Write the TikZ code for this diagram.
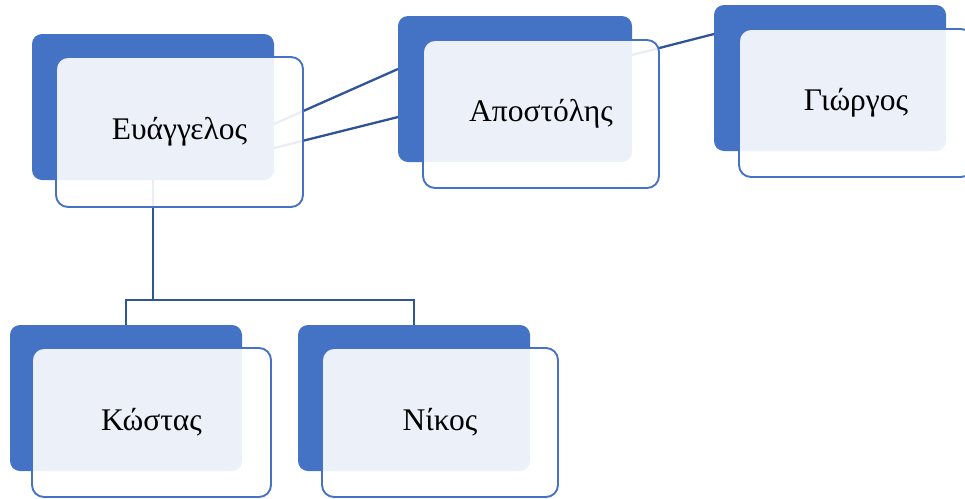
\documentclass[tikz,border=0pt]{standalone}
\usepackage{fontspec}
\setmainfont{Liberation Serif}
\usetikzlibrary{calc}
\definecolor{bblue}{HTML}{4472C4}
\definecolor{lblue}{HTML}{2F5597}
\tikzset{
  back/.style={fill=bblue, draw=none, rounded corners=10pt, inner sep=0pt, outer sep=0pt},
  front/.style={fill=white, fill opacity=0.9, draw=bblue, draw opacity=1, line width=1.9pt, rounded corners=12pt, inner sep=0pt, outer sep=0pt},
  label/.style={font=\fontsize{31.5}{36}\selectfont, text=black},
  link/.style={draw=lblue, line width=2.3pt}
}
\begin{document}
\begin{tikzpicture}[x=1pt,y=-1pt]
\useasboundingbox (0,0) rectangle (965,498);
\clip (0,0) rectangle (965,498);
% back rectangles
\node[back, minimum width=242pt, minimum height=146pt] (E) at (153,107) {};
\node[back, minimum width=234pt, minimum height=146pt] (A) at (515,89) {};
\node[back, minimum width=232pt, minimum height=146pt] (G) at (830,78) {};
\node[back, minimum width=232pt, minimum height=146pt] (K) at (126,398) {};
\node[back, minimum width=232pt, minimum height=146pt] (N) at (414,398) {};
% connectors
\coordinate (bus) at (153,300);
\draw[link] ($(E.east)+(0,17)$) -- ($(A.west)+(0,-20)$);
\draw[link] ($(E.east)+(0,41)$) -- ($(A.west)+(0,28)$);
\draw[link] ($(A.east)+(0,-34)$) -- ($(G.west)+(0,-44)$);
\draw[link] (E.south) -- (bus);
\draw[link] (K.north) -- (K.north |- bus) -- (N.north |- bus) -- (N.north);
% front rectangles
\node[front, minimum width=247pt, minimum height=150pt] (Ef) at (179.5,132) {};
\node[front, minimum width=236pt, minimum height=148pt] (Af) at (541,114) {};
\node[front, minimum width=234pt, minimum height=148pt] (Gf) at (856,103) {};
\node[front, minimum width=239pt, minimum height=149pt] (Kf) at (151.5,422.5) {};
\node[front, minimum width=236pt, minimum height=149pt] (Nf) at (440,422.5) {};
% labels
\node[label] (Et) at (Ef) {Ευάγγελος};
\node[label] (At) at (Af) {Αποστόλης};
\node[label] (Gt) at (Gf) {Γιώργος};
\node[label] (Kt) at (Kf) {Κώστας};
\node[label] (Nt) at (Nf) {Νίκος};
\end{tikzpicture}
\end{document}
